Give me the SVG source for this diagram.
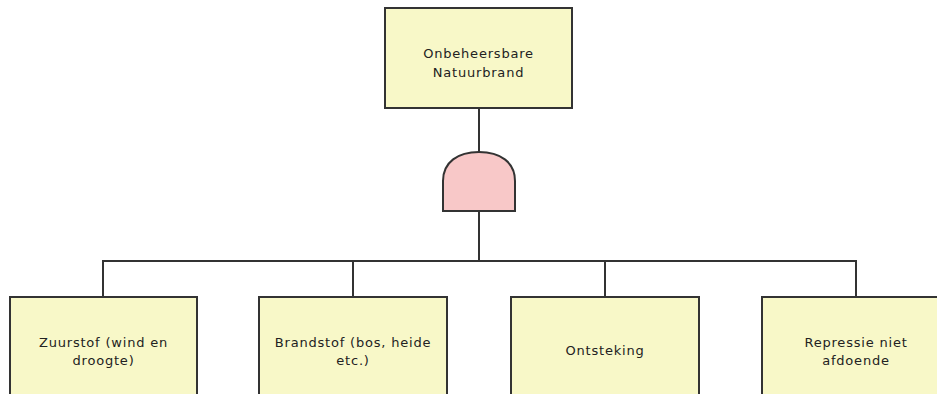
<svg xmlns="http://www.w3.org/2000/svg" width="937" height="394" viewBox="0 0 937 394">
<style>
.box{fill:#f8f8c8;stroke:#333;stroke-width:2}
.gate{fill:#f8c8c8;stroke:#333;stroke-width:2}
.ln{fill:none;stroke:#333;stroke-width:2}
text{font-family:"DejaVu Sans","Liberation Sans",sans-serif;font-size:13px;letter-spacing:0.8px;fill:#222;text-anchor:middle;dominant-baseline:central}
</style>
<rect width="937" height="394" fill="#fff"/>
<g id="connectors">
<line class="ln" x1="479" y1="108" x2="479" y2="152"/>
<line class="ln" x1="479" y1="211" x2="479" y2="261"/>
<polyline class="ln" points="103,297 103,261 856,261 856,297"/>
<line class="ln" x1="353" y1="261" x2="353" y2="297"/>
<line class="ln" x1="605" y1="261" x2="605" y2="297"/>
</g>
<g id="top">
<rect class="box" x="385" y="8" width="187" height="100"/>
<text x="478.5" y="53">Onbeheersbare</text>
<text x="478.5" y="72">Natuurbrand</text>
</g>
<g id="gate">
<path class="gate" d="M443,211 L443,181 C443,162 458,152 479,152 C500,152 515,162 515,181 L515,211 Z"/>
</g>
<g id="zuurstof">
<rect class="box" x="10" y="297" width="187" height="110"/>
<text x="103.5" y="342">Zuurstof (wind en</text>
<text x="103.5" y="360">droogte)</text>
</g>
<g id="brandstof">
<rect class="box" x="259" y="297" width="188" height="110"/>
<text x="353" y="342">Brandstof (bos, heide</text>
<text x="353" y="360">etc.)</text>
</g>
<g id="ontsteking">
<rect class="box" x="511" y="297" width="188" height="110"/>
<text x="605" y="350">Ontsteking</text>
</g>
<g id="repressie">
<rect class="box" x="762" y="297" width="188" height="110"/>
<text x="856" y="342">Repressie niet</text>
<text x="856" y="360">afdoende</text>
</g>
</svg>
